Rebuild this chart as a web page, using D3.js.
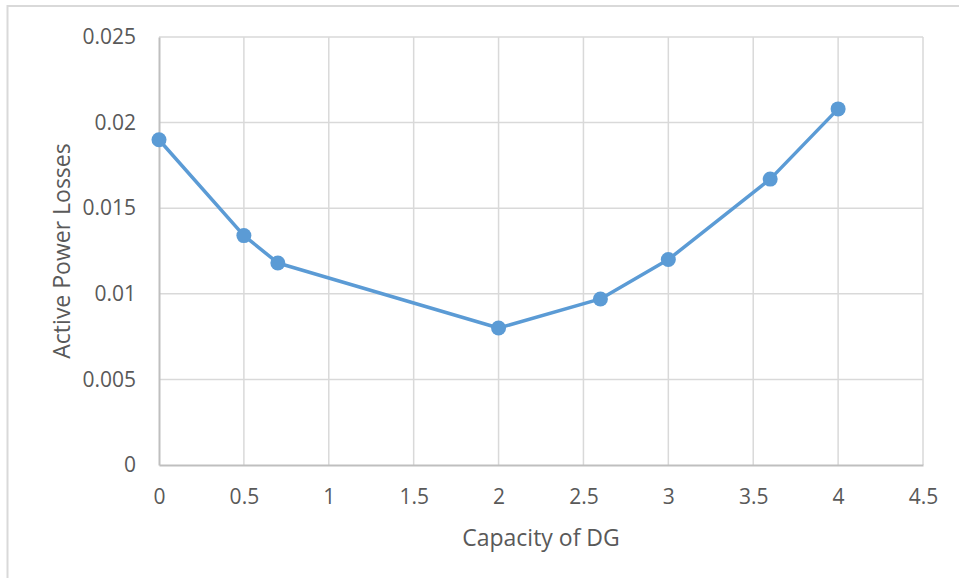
<!DOCTYPE html>
<html>
<head>
<meta charset="utf-8">
<script src="https://cdn.jsdelivr.net/npm/d3@7"></script>
<style>
html,body{margin:0;padding:0;background:#fff;}
svg{display:block;}
text{font-family:"Open Sans",Lato,"Liberation Sans",sans-serif;fill:#595959;}
</style>
</head>
<body>
<svg id="chart" width="959" height="578"></svg>
<script>
const capacity = [0, 0.5, 0.7, 2, 2.6, 3, 3.6, 4];
const losses = [0.0190, 0.0134, 0.0118, 0.0080, 0.0097, 0.0120, 0.0167, 0.0208];
const xTicks = [0, 0.5, 1, 1.5, 2, 2.5, 3, 3.5, 4, 4.5];
const yTicks = [0, 0.005, 0.01, 0.015, 0.02, 0.025];
const xTitle = "Capacity of DG";
const yTitle = "Active Power Losses";

const svg = d3.select("#chart");
const W = 959, H = 578;
const m = {left:159, right:W-923, top:37, bottom:H-465};

// outer chart border
svg.append("rect").attr("x",7.5).attr("y",6).attr("width",W).attr("height",H)
  .attr("fill","none").attr("stroke","#D9D9D9").attr("stroke-width",2);

const x = d3.scaleLinear().domain([0,4.5]).range([m.left, W-m.right]);
const y = d3.scaleLinear().domain([0,0.025]).range([H-m.bottom, m.top]);

// gridlines
svg.append("g").selectAll("line.h").data(yTicks.filter(d=>d>0)).join("line")
  .attr("x1",x(0)).attr("x2",x(4.5)).attr("y1",d=>y(d)).attr("y2",d=>y(d))
  .attr("stroke","#D9D9D9").attr("stroke-width",1.5);
svg.append("g").selectAll("line.v").data(xTicks.filter(d=>d>0)).join("line")
  .attr("x1",d=>x(d)).attr("x2",d=>x(d)).attr("y1",y(0)).attr("y2",y(0.025))
  .attr("stroke","#D9D9D9").attr("stroke-width",1.5);

// axes
const xAxis = svg.append("g").attr("transform",`translate(0,${y(0)})`)
  .call(d3.axisBottom(x).tickValues(xTicks).tickSize(0).tickPadding(24).tickFormat(d=>String(d)));
const yAxis = svg.append("g").attr("transform",`translate(${x(0)},0)`)
  .call(d3.axisLeft(y).tickValues(yTicks).tickSize(0).tickPadding(23).tickFormat(d=>String(d)));
[xAxis,yAxis].forEach(g=>{
  g.select(".domain").attr("stroke","#BFBFBF").attr("stroke-width",2);
  g.selectAll("text").attr("font-size",21).attr("fill","#595959")
    .style("font-family",'"Open Sans",Lato,sans-serif');
});

// line
const line = d3.line().x((d,i)=>x(capacity[i])).y(d=>y(d));
svg.append("path").datum(losses).attr("d",line)
  .attr("fill","none").attr("stroke","#5B9BD5").attr("stroke-width",3.5)
  .attr("stroke-linejoin","round");
svg.append("g").selectAll("circle").data(losses).join("circle")
  .attr("cx",(d,i)=>x(capacity[i])).attr("cy",d=>y(d)).attr("r",7.5)
  .attr("fill","#5B9BD5");

// titles
svg.append("text").attr("x",(x(0)+x(4.5))/2).attr("y",546)
  .attr("text-anchor","middle").attr("font-size",23).text(xTitle);
svg.append("text").attr("transform",`translate(70,${(y(0)+y(0.025))/2}) rotate(-90)`)
  .attr("text-anchor","middle").attr("font-size",23).text(yTitle);
</script>
</body>
</html>
